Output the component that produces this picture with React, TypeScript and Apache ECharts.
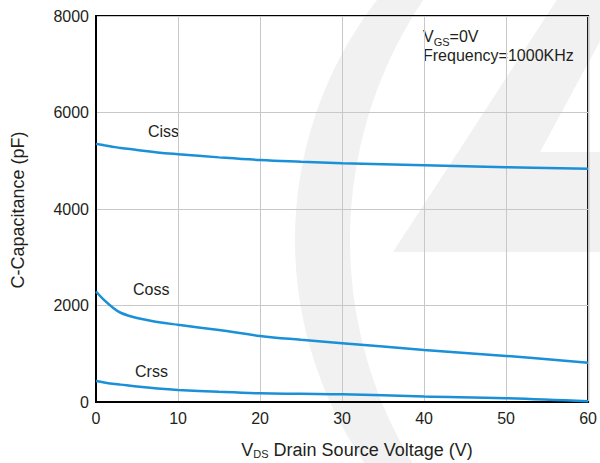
import React, { useEffect, useRef } from "react";
import * as echarts from "echarts";

const vds = [0, 1, 2, 3, 5, 7.5, 10, 15, 20, 25, 30, 40, 50, 60];
const ciss = [5350, 5320, 5292, 5265, 5225, 5172, 5135, 5070, 5015, 4980, 4950, 4905, 4865, 4835];
const coss = [2290, 2110, 1965, 1850, 1740, 1660, 1600, 1490, 1370, 1290, 1220, 1080, 955, 815];
const crss = [435, 405, 380, 360, 320, 280, 250, 210, 180, 170, 160, 115, 80, 15];

const seriesNames = ["Ciss", "Coss", "Crss"];
const xTicks = [0, 10, 20, 30, 40, 50, 60];
const yTicks = [0, 2000, 4000, 6000, 8000];

const FONT = "'Liberation Sans', Arial, Helvetica, sans-serif";
const TEXT = "#231f20";
const BLUE = "#1a90d8";
const WM = "#f1f1f1";

function crescent(): number[][] {
  const pts: number[][] = [];
  const o = { cx: 687, cy: 240, r: 392 };
  const i = { cx: 780, cy: 240, r: 430 };
  const a0 = Math.asin((-10 - o.cy) / o.r);
  const a1 = Math.asin((473 - o.cy) / o.r);
  for (let k = 0; k <= 40; k++) {
    const a = a0 + ((a1 - a0) * k) / 40;
    pts.push([o.cx - o.r * Math.cos(a), o.cy + o.r * Math.sin(a)]);
  }
  const b0 = Math.asin((473 - i.cy) / i.r);
  const b1 = Math.asin((-10 - i.cy) / i.r);
  for (let k = 0; k <= 40; k++) {
    const a = b0 + ((b1 - b0) * k) / 40;
    pts.push([i.cx - i.r * Math.cos(a), i.cy + i.r * Math.sin(a)]);
  }
  return pts;
}

export default function App() {
  const ref = useRef<HTMLDivElement>(null);
  useEffect(() => {
    if (!ref.current) return;
    const chart = echarts.init(ref.current, undefined, { renderer: "svg" });
    const mk = (name: string, data: number[]) => ({
      name,
      type: "line",
      smooth: 0.4,
      showSymbol: false,
      lineStyle: { color: BLUE, width: 2.5 },
      itemStyle: { color: BLUE },
      data: vds.map((x, k) => [x, data[k]]),
      z: 3,
    });
    chart.setOption({
      animation: false,
      backgroundColor: "#ffffff",
      textStyle: { fontFamily: FONT },
      grid: {
        left: 96,
        right: 8,
        top: 16,
        bottom: 61,
        show: true,
        borderColor: "#000",
        borderWidth: 2,
        backgroundColor: "transparent",
      },
      xAxis: {
        type: "value",
        min: xTicks[0],
        max: xTicks[xTicks.length - 1],
        interval: 10,
        axisLine: { show: true, lineStyle: { color: "#000", width: 2 } },
        axisTick: { show: false },
        axisLabel: { color: TEXT, fontSize: 16, margin: 8, fontFamily: FONT, formatter: (v: number) => String(v) },
        splitLine: { show: true, lineStyle: { color: "#c8c8c8", width: 1 } },
      },
      yAxis: {
        type: "value",
        min: yTicks[0],
        max: yTicks[yTicks.length - 1],
        interval: 2000,
        axisLine: { show: true, lineStyle: { color: "#000", width: 2 } },
        axisTick: { show: false },
        axisLabel: { color: TEXT, fontSize: 16, margin: 7, fontFamily: FONT, formatter: (v: number) => String(v) },
        splitLine: { show: true, lineStyle: { color: "#c8c8c8", width: 1 } },
      },
      series: [mk(seriesNames[0], ciss), mk(seriesNames[1], coss), mk(seriesNames[2], crss)],
      graphic: [
        { type: "polygon", z: -10, silent: true, shape: { points: crescent() }, style: { fill: WM } },
        {
          type: "polygon",
          z: -10,
          silent: true,
          shape: { points: [[560, -5], [625, -5], [540, 152], [605, 152], [605, 252], [393, 252]] },
          style: { fill: WM },
        },
        {
          type: "text",
          x: 148,
          y: 131,
          style: { text: seriesNames[0], font: `16px ${FONT}`, fill: TEXT, verticalAlign: "middle" },
        },
        {
          type: "text",
          x: 133,
          y: 289,
          style: { text: seriesNames[1], font: `16px ${FONT}`, fill: TEXT, verticalAlign: "middle" },
        },
        {
          type: "text",
          x: 135,
          y: 371,
          style: { text: seriesNames[2], font: `16px ${FONT}`, fill: TEXT, verticalAlign: "middle" },
        },
        {
          type: "text",
          x: 423,
          y: 36,
          style: {
            text: "{n|V}{s|GS}{n|=0V}",
            verticalAlign: "middle",
            rich: {
              n: { fontSize: 16, fontFamily: FONT, fill: TEXT, color: TEXT, verticalAlign: "bottom" },
              s: { fontSize: 11, fontFamily: FONT, fill: TEXT, color: TEXT, verticalAlign: "bottom", padding: [0, 0, -3, 0] },
            },
          },
        },
        {
          type: "text",
          x: 423,
          y: 55,
          style: { text: "Frequency=1000KHz", font: `16px ${FONT}`, fill: TEXT, verticalAlign: "middle" },
        },
        {
          type: "text",
          x: 357,
          y: 450,
          style: {
            text: "{n|V}{s|DS}{n| Drain Source Voltage (V)}",
            align: "center",
            verticalAlign: "middle",
            rich: {
              n: { fontSize: 18, fontFamily: FONT, fill: TEXT, color: TEXT, verticalAlign: "bottom" },
              s: { fontSize: 11, fontFamily: FONT, fill: TEXT, color: TEXT, verticalAlign: "bottom" },
            },
          },
        },
        {
          type: "text",
          x: 18,
          y: 210,
          rotation: Math.PI / 2,
          style: {
            text: "C-Capacitance (pF)",
            font: `18px ${FONT}`,
            fill: TEXT,
            align: "center",
            verticalAlign: "middle",
          },
        },
      ],
    });
    return () => chart.dispose();
  }, []);
  return (
    <div
      ref={ref}
      style={{ position: "fixed", left: 0, top: 0, width: 600, height: 463, background: "#fff" }}
    />
  );
}
